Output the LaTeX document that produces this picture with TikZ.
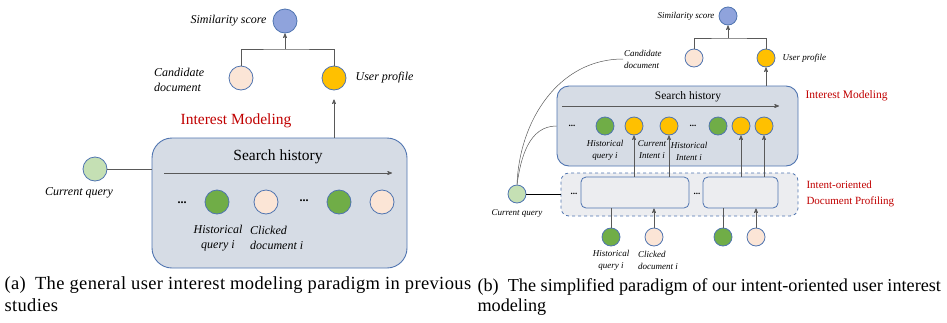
\documentclass[tikz,border=0pt]{standalone}
\usepackage{fontspec}
\setmainfont{Liberation Serif}[ItalicFont={Liberation Serif Italic},BoldFont={Liberation Serif Bold}]
\usetikzlibrary{arrows,positioning}
\definecolor{rimblue}{HTML}{4F74B0}
\definecolor{simblue}{HTML}{8FA3DC}
\definecolor{peach}{HTML}{FBE5D6}
\definecolor{gold}{HTML}{FFC000}
\definecolor{leafgreen}{HTML}{70AD47}
\definecolor{mint}{HTML}{C5E0B4}
\definecolor{panelfill}{HTML}{D6DCE5}
\definecolor{dashfill}{HTML}{ECEDF0}
\definecolor{titlered}{HTML}{C00000}
\definecolor{wire}{HTML}{595959}

\begin{document}
\begin{tikzpicture}[x=1pt,y=-1pt,>=stealth',
  bubble/.style={circle,draw=rimblue,line width=0.8pt,inner sep=0pt},
  big/.style={minimum size=24pt},
  small/.style={minimum size=18pt},
  lbl/.style={font=\itshape\fontsize{12}{15}\selectfont,inner sep=1pt},
  slbl/.style={font=\itshape\fontsize{9}{12}\selectfont,inner sep=1pt},
  panel/.style={rectangle,draw=rimblue,fill=panelfill,line width=0.9pt},
  wirepath/.style={draw=wire,line width=0.7pt},
  dots/.style={font=\bfseries,inner sep=0pt}]

  \useasboundingbox (0,0) rectangle (947,322);

  % (a) general paradigm
  \node[panel,rounded corners=20pt,minimum width=255pt,minimum height=130pt] (boxA) at (279.5,203) {};
  \node[bubble,big,fill=simblue] (simA) at (285,21) {};
  \node[lbl,left=5pt of simA] (simAt) {Similarity score};
  \node[bubble,big,fill=peach] (candA) at (241,78) {};
  \node[bubble,big,fill=gold] (userA) at (334,78) {};
  \node[lbl,anchor=west,align=left] (candAt) at (153,80) {Candidate\\document};
  \node[lbl,right=8pt of userA] (userAt) {User profile};
  \coordinate (joinA) at (285,49);
  \draw[wirepath] (candA) |- (joinA) -| (userA);
  \draw[wirepath,->] (joinA) -- (simA);
  \draw[wirepath,->,shorten >=9pt] (boxA.north -| userA) -- (userA);
  \node[font=\fontsize{15.5}{18}\selectfont,text=titlered] (imA) at (236,121) {Interest Modeling};

  \node[font=\fontsize{15.5}{18}\selectfont] (shA) at (278,157) {Search history};
  \coordinate (tlA0) at (164,173);
  \coordinate (tlA1) at (392,173);
  \draw[wirepath,->] (tlA0) -- (tlA1);

  \node[dots,font=\bfseries\fontsize{12}{14}\selectfont] (dotA1) at (182,203) {...};
  \node[bubble,big,fill=leafgreen] (hqA) at (217,202) {};
  \node[bubble,big,fill=peach] (cdA) at (266,202) {};
  \node[dots,font=\bfseries\fontsize{12}{14}\selectfont] (dotA2) at (304,201) {...};
  \node[bubble,big,fill=leafgreen] (hqA2) at (339,202) {};
  \node[bubble,big,fill=peach] (cdA2) at (382,202) {};
  \node[lbl,align=center] (hqAt) at (218,238) {Historical\\query \textit{i}};
  \node[lbl,anchor=west,align=left] (cdAt) at (249,238) {Clicked\\document \textit{i}};

  \node[bubble,big,fill=mint] (curA) at (95,169) {};
  \node[lbl] (curAt) at (79,193) {Current query};
  \draw[wirepath] (curA) -- (curA -| boxA.west);

  \node[font=\fontsize{18.5}{22}\selectfont\addfontfeatures{LetterSpace=2},anchor=west,align=left] (capA) at (1,294)
    {(a)\enspace The general user interest modeling paradigm in previous\\studies};

  % (b) intent-oriented paradigm
  \node[panel,rounded corners=12pt,minimum width=241pt,minimum height=80pt] (boxB) at (677.5,126) {};
  \node[rectangle,draw=rimblue,fill=dashfill,dashed,line width=0.8pt,rounded corners=8pt,
        minimum width=237pt,minimum height=43pt] (dashB) at (679.5,194.5) {};
  \node[rectangle,draw=rimblue,fill=dashfill,line width=0.8pt,rounded corners=5pt,
        minimum width=108pt,minimum height=31pt] (innerB1) at (635,192.5) {};
  \node[rectangle,draw=rimblue,fill=dashfill,line width=0.8pt,rounded corners=5pt,
        minimum width=75pt,minimum height=31pt] (innerB2) at (740.5,192.5) {};

  \node[bubble,small,fill=simblue] (simB) at (728,16) {};
  \node[slbl,left=3pt of simB] (simBt) {Similarity score};
  \node[bubble,small,fill=peach] (candB) at (694,58) {};
  \node[bubble,small,fill=gold] (userB) at (766,58) {};
  \node[slbl,anchor=west,align=left] (candBt) at (623,59) {Candidate\\document};
  \node[slbl,right=6pt of userB] (userBt) {User profile};
  \coordinate (joinB) at (728,38);
  \draw[wirepath] (candB) |- (joinB) -| (userB);
  \draw[wirepath,->] (joinB) -- (simB);
  \draw[wirepath,->] (boxB.north -| userB) -- (userB);

  \node[font=\fontsize{11.5}{14}\selectfont] (shB) at (688,97) {Search history};
  \coordinate (tlB0) at (562,106);
  \coordinate (tlB1) at (779,106);
  \draw[wirepath,->] (tlB0) -- (tlB1);
  \node[font=\fontsize{11.5}{14}\selectfont,text=titlered,anchor=west] (imB) at (802,96) {Interest Modeling};

  \node[dots,font=\bfseries\fontsize{9}{11}\selectfont] (dotB1) at (572,126) {...};
  \node[bubble,small,fill=leafgreen] (hqB) at (605,126) {};
  \node[bubble,small,fill=gold] (ciB) at (634,126) {};
  \node[bubble,small,fill=gold] (hiB) at (669,126) {};
  \node[dots,font=\bfseries\fontsize{9}{11}\selectfont] (dotB2) at (693,126) {...};
  \node[bubble,small,fill=leafgreen] (hqB2) at (718,126) {};
  \node[bubble,small,fill=gold] (ciB2) at (741,126) {};
  \node[bubble,small,fill=gold] (hiB2) at (764,126) {};
  \node[slbl,align=center] (hqBt) at (605,150) {Historical\\query \textit{i}};
  \node[slbl,align=center] (ciBt) at (652,150) {Current\\Intent \textit{i}};
  \node[slbl,align=center] (hiBt) at (689,151) {Historical\\Intent \textit{i}};

  \draw[wirepath,->] (innerB1.north -| ciB) -- (ciB);
  \draw[wirepath,->] (innerB1.north -| hiB) -- (hiB);
  \draw[wirepath,->] (innerB2.north -| ciB2) -- (ciB2);
  \draw[wirepath,->] (innerB2.north -| hiB2) -- (hiB2);

  \node[dots,font=\bfseries\fontsize{9}{11}\selectfont] (dotB3) at (574,194) {...};
  \node[dots,font=\bfseries\fontsize{9}{11}\selectfont] (dotB4) at (697,194) {...};
  \node[font=\fontsize{11}{16}\selectfont,text=titlered,anchor=west,align=left] (ipB) at (803,194)
    {Intent-oriented\\Document Profiling};

  \node[bubble,small,fill=leafgreen] (hqB3) at (611,237) {};
  \node[bubble,small,fill=peach] (cdB3) at (654,237) {};
  \node[bubble,small,fill=leafgreen] (hqB4) at (723,237) {};
  \node[bubble,small,fill=peach] (cdB4) at (756,237) {};
  \node[slbl,align=center] (hqB3t) at (611,260) {Historical\\query \textit{i}};
  \node[slbl,anchor=west,align=left] (cdB3t) at (637,260) {Clicked\\document \textit{i}};
  \draw[wirepath] (hqB3) -- (hqB3 |- innerB1.south);
  \draw[wirepath,->] (cdB3) -- (cdB3 |- innerB1.south);
  \draw[wirepath] (hqB4) -- (hqB4 |- innerB2.south);
  \draw[wirepath,->] (cdB4) -- (cdB4 |- innerB2.south);

  \node[bubble,small,fill=mint] (curB) at (517,194) {};
  \node[slbl] (curBt) at (517,213) {Current query};
  \draw[line width=0.9pt] (curB) -- (curB -| dashB.west);
  \draw[wirepath,line width=0.5pt] (curB.north) to[out=88,in=180] (candBt.west);
  \draw[wirepath,line width=0.5pt] (curB.north) to[out=82,in=180] (boxB.west);

  \node[font=\fontsize{18.2}{20}\selectfont,anchor=west,align=left] (capB) at (474,297)
    {(b)\enspace The simplified paradigm of our intent-oriented user interest\\modeling};
\end{tikzpicture}
\end{document}
